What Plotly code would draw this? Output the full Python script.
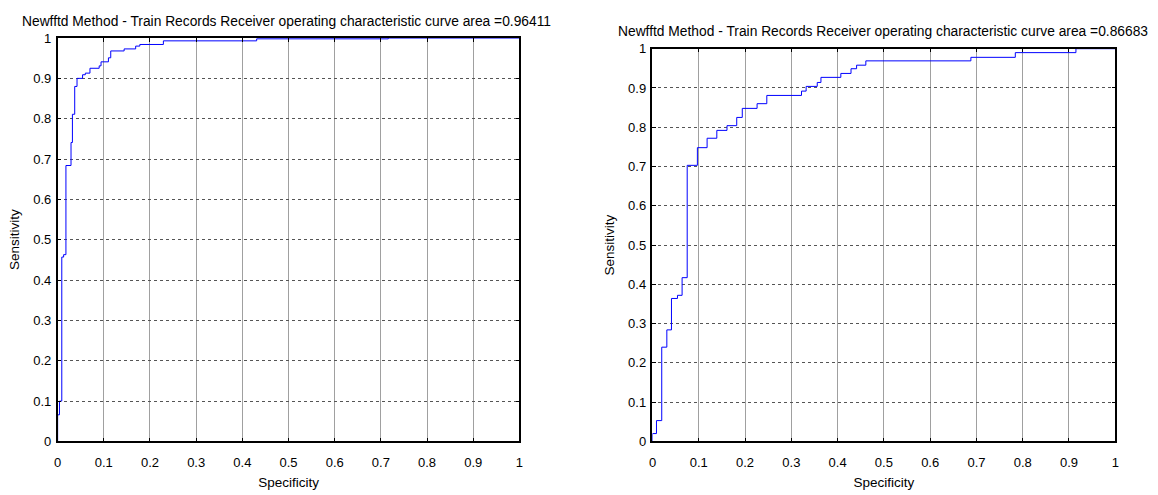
import plotly.graph_objects as go

# ROC step points for the two classifiers (x = 1 - specificity, y = sensitivity)
left_fpr = [0, 0, 0.004, 0.004, 0.009, 0.009, 0.013, 0.013, 0.018, 0.018, 0.029, 0.029,
            0.032, 0.032, 0.037, 0.037, 0.042, 0.042, 0.054, 0.054, 0.060, 0.060, 0.070, 0.070,
            0.090, 0.090, 0.094, 0.094, 0.110, 0.110, 0.115, 0.115, 0.144, 0.144, 0.169, 0.169,
            0.178, 0.178, 0.229, 0.229, 0.431, 0.431, 0.716, 0.716, 1.0]
left_tpr = [0, 0.066, 0.066, 0.100, 0.100, 0.457, 0.457, 0.463, 0.463, 0.684, 0.684, 0.741,
            0.741, 0.811, 0.811, 0.880, 0.880, 0.900, 0.900, 0.909, 0.909, 0.913, 0.913, 0.925,
            0.925, 0.931, 0.931, 0.941, 0.941, 0.951, 0.951, 0.968, 0.968, 0.973, 0.973, 0.980,
            0.980, 0.984, 0.984, 0.993, 0.993, 0.998, 0.998, 1.0, 1.0]

right_fpr = [0, 0, 0.0086, 0.0086, 0.020, 0.020, 0.031, 0.031, 0.041, 0.041, 0.054, 0.054,
             0.064, 0.064, 0.075, 0.075, 0.097, 0.097, 0.118, 0.118, 0.139, 0.139, 0.161, 0.161,
             0.182, 0.182, 0.194, 0.194, 0.226, 0.226, 0.247, 0.247, 0.322, 0.322, 0.332, 0.332,
             0.356, 0.356, 0.364, 0.364, 0.407, 0.407, 0.429, 0.429, 0.441, 0.441, 0.461, 0.461,
             0.688, 0.688, 0.784, 0.784, 0.915, 0.915, 1.0]
right_tpr = [0, 0.020, 0.020, 0.053, 0.053, 0.240, 0.240, 0.284, 0.284, 0.364, 0.364, 0.372,
             0.372, 0.417, 0.417, 0.703, 0.703, 0.748, 0.748, 0.772, 0.772, 0.792, 0.792, 0.804,
             0.804, 0.825, 0.825, 0.848, 0.848, 0.860, 0.860, 0.881, 0.881, 0.892, 0.892, 0.904,
             0.904, 0.914, 0.914, 0.927, 0.927, 0.937, 0.937, 0.949, 0.949, 0.958, 0.958, 0.969,
             0.969, 0.978, 0.978, 0.990, 0.990, 1.0, 1.0]

left_title = "Newfftd Method - Train Records Receiver operating characteristic curve area =0.96411"
right_title = "Newfftd Method - Train Records Receiver operating characteristic curve area =0.86683"

tick_vals = [0, 0.1, 0.2, 0.3, 0.4, 0.5, 0.6, 0.7, 0.8, 0.9, 1]
tick_text = ["0", "0.1", "0.2", "0.3", "0.4", "0.5", "0.6", "0.7", "0.8", "0.9", "1"]

W, H = 1158, 495
FONT = "Liberation Sans, Arial, sans-serif"

fig = go.Figure()
fig.add_trace(go.Scatter(x=left_fpr, y=left_tpr, mode="lines",
                         line=dict(color="#0000ff", width=1), xaxis="x", yaxis="y",
                         showlegend=False, hoverinfo="skip"))
fig.add_trace(go.Scatter(x=right_fpr, y=right_tpr, mode="lines",
                         line=dict(color="#0000ff", width=1), xaxis="x2", yaxis="y2",
                         showlegend=False, hoverinfo="skip"))


def axis_common(is_x):
    d = dict(range=[0, 1], tickvals=tick_vals, ticktext=tick_text,
             showline=True, linecolor="black", linewidth=1.5, mirror="ticks",
             ticks="inside", ticklen=4, tickcolor="black", tickwidth=1,
             showgrid=True, zeroline=False,
             tickfont=dict(family=FONT, size=13, color="black"),
             title_font=dict(family=FONT, size=13.5, color="black"))
    if is_x:
        d.update(gridcolor="#a0a0a0", gridwidth=1, ticklabelstandoff=8)
    else:
        d.update(gridcolor="#555555", gridwidth=1, griddash="dot", ticklabelstandoff=2)
    return d


# left panel
lx0, lx1, ly0, ly1 = 54, 519, 32, 448
# right panel
rx0, rx1, ry0, ry1 = 653, 1119, 43, 448

fig.update_layout(
    width=W, height=H,
    margin=dict(l=0, r=0, t=0, b=0),
    paper_bgcolor="white", plot_bgcolor="white",
    xaxis=dict(domain=[lx0 / W, lx1 / W], anchor="y",
               title=dict(text="Specificity", standoff=9), **axis_common(True)),
    yaxis=dict(domain=[1 - ly1 / H, 1 - ly0 / H], anchor="x",
               title=dict(text="Sensitivity", standoff=10), **axis_common(False)),
    xaxis2=dict(domain=[rx0 / W, rx1 / W], anchor="y2",
                title=dict(text="Specificity", standoff=9), **axis_common(True)),
    yaxis2=dict(domain=[1 - ry1 / H, 1 - ry0 / H], anchor="x2",
                title=dict(text="Sensitivity", standoff=10), **axis_common(False)),
    annotations=[
        dict(text=left_title, x=284.5 / W, y=1 - 15 / H, xref="paper", yref="paper",
             xanchor="center", yanchor="middle", showarrow=False,
             font=dict(family=FONT, size=13.8, color="black")),
        dict(text=right_title, x=885.5 / W, y=1 - 25 / H, xref="paper", yref="paper",
             xanchor="center", yanchor="middle", showarrow=False,
             font=dict(family=FONT, size=13.8, color="black")),
    ],
)

fig.write_html("out.html")
